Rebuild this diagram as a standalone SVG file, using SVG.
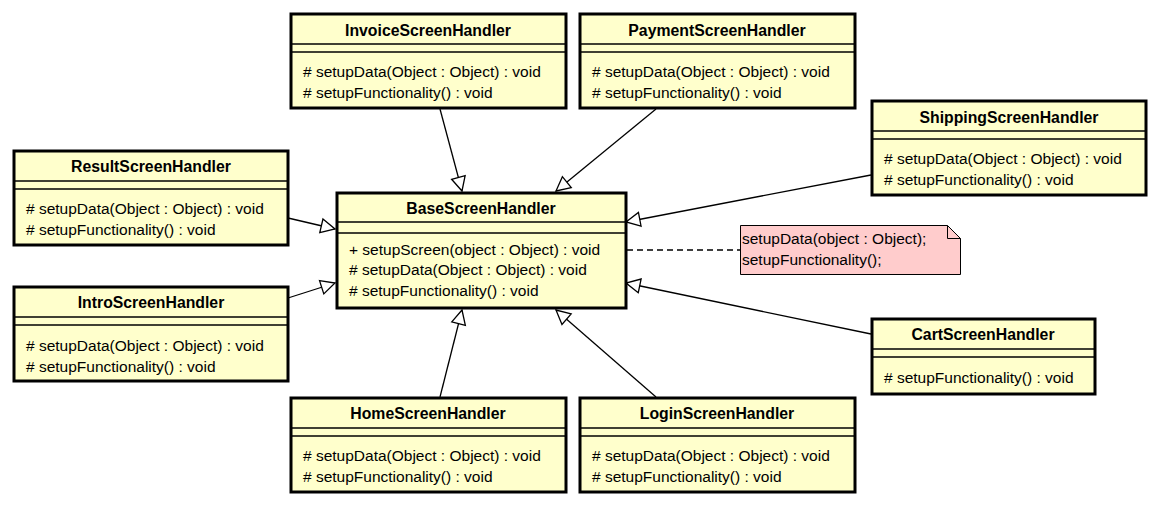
<svg xmlns="http://www.w3.org/2000/svg" width="1158" height="506" viewBox="0 0 1158 506">
<style>
.box{fill:#FFFFCC;stroke:#000;stroke-width:3}
.sep{stroke:#000;stroke-width:1.5}
.t{font-family:"Liberation Sans",Arial,sans-serif;font-size:15.8px;font-weight:bold;text-anchor:middle;fill:#000}
.m{font-family:"Liberation Sans",Arial,sans-serif;font-size:15.5px;fill:#000}
.c{stroke:#000;stroke-width:1.3;fill:none;marker-end:url(#gen)}
</style>
<defs>
<marker id="gen" markerUnits="userSpaceOnUse" markerWidth="18" markerHeight="18" refX="15" refY="8" orient="auto" overflow="visible">
<path d="M1,1 L15,8 L1,15 Z" fill="#fff" stroke="#000" stroke-width="1.3"/>
</marker>
</defs>
<rect width="1158" height="506" fill="#fff"/>
<g id="connectors">
<line class="c" x1="440" y1="109" x2="462" y2="191"/>
<line class="c" x1="656" y1="109" x2="556" y2="191"/>
<line class="c" x1="871" y1="175" x2="626" y2="222"/>
<line class="c" x1="288" y1="218" x2="335" y2="229"/>
<line class="c" x1="288" y1="298" x2="335" y2="283"/>
<line class="c" x1="440" y1="397" x2="462" y2="310"/>
<line class="c" x1="656" y1="397" x2="556" y2="310"/>
<line class="c" x1="871" y1="334" x2="626" y2="283"/>
<line x1="627" y1="250" x2="740" y2="250" stroke="#000" stroke-width="1.3" stroke-dasharray="6,4"/>
</g>
<g id="BaseScreenHandler">
<rect class="box" x="337" y="193" width="289" height="115"/>
<line class="sep" x1="337" y1="222" x2="626" y2="222"/>
<line class="sep" x1="337" y1="233" x2="626" y2="233"/>
<text class="t" x="481" y="214">BaseScreenHandler</text>
<text class="m" x="349" y="255">+ setupScreen(object : Object) : void</text>
<text class="m" x="349" y="275"># setupData(Object : Object) : void</text>
<text class="m" x="349" y="296"># setupFunctionality() : void</text>
</g>
<g id="InvoiceScreenHandler">
<rect class="box" x="291" y="14" width="275" height="94"/>
<line class="sep" x1="291" y1="44" x2="566" y2="44"/>
<line class="sep" x1="291" y1="52" x2="566" y2="52"/>
<text class="t" x="428" y="36">InvoiceScreenHandler</text>
<text class="m" x="303" y="77"># setupData(Object : Object) : void</text>
<text class="m" x="303" y="98"># setupFunctionality() : void</text>
</g>
<g id="PaymentScreenHandler">
<rect class="box" x="580" y="14" width="275" height="94"/>
<line class="sep" x1="580" y1="44" x2="855" y2="44"/>
<line class="sep" x1="580" y1="52" x2="855" y2="52"/>
<text class="t" x="717" y="36">PaymentScreenHandler</text>
<text class="m" x="592" y="77"># setupData(Object : Object) : void</text>
<text class="m" x="592" y="98"># setupFunctionality() : void</text>
</g>
<g id="ShippingScreenHandler">
<rect class="box" x="872" y="101" width="274" height="94"/>
<line class="sep" x1="872" y1="131" x2="1146" y2="131"/>
<line class="sep" x1="872" y1="139" x2="1146" y2="139"/>
<text class="t" x="1009" y="123">ShippingScreenHandler</text>
<text class="m" x="884" y="164"># setupData(Object : Object) : void</text>
<text class="m" x="884" y="185"># setupFunctionality() : void</text>
</g>
<g id="ResultScreenHandler">
<rect class="box" x="14" y="151" width="274" height="94"/>
<line class="sep" x1="14" y1="181" x2="288" y2="181"/>
<line class="sep" x1="14" y1="189" x2="288" y2="189"/>
<text class="t" x="151" y="172">ResultScreenHandler</text>
<text class="m" x="26" y="214"># setupData(Object : Object) : void</text>
<text class="m" x="26" y="235"># setupFunctionality() : void</text>
</g>
<g id="IntroScreenHandler">
<rect class="box" x="14" y="287" width="274" height="94"/>
<line class="sep" x1="14" y1="317" x2="288" y2="317"/>
<line class="sep" x1="14" y1="325" x2="288" y2="325"/>
<text class="t" x="151" y="308">IntroScreenHandler</text>
<text class="m" x="26" y="351"># setupData(Object : Object) : void</text>
<text class="m" x="26" y="372"># setupFunctionality() : void</text>
</g>
<g id="HomeScreenHandler">
<rect class="box" x="291" y="398" width="275" height="94"/>
<line class="sep" x1="291" y1="428" x2="566" y2="428"/>
<line class="sep" x1="291" y1="436" x2="566" y2="436"/>
<text class="t" x="428" y="419">HomeScreenHandler</text>
<text class="m" x="303" y="461"># setupData(Object : Object) : void</text>
<text class="m" x="303" y="482"># setupFunctionality() : void</text>
</g>
<g id="LoginScreenHandler">
<rect class="box" x="580" y="398" width="275" height="94"/>
<line class="sep" x1="580" y1="428" x2="855" y2="428"/>
<line class="sep" x1="580" y1="436" x2="855" y2="436"/>
<text class="t" x="717" y="419">LoginScreenHandler</text>
<text class="m" x="592" y="461"># setupData(Object : Object) : void</text>
<text class="m" x="592" y="482"># setupFunctionality() : void</text>
</g>
<g id="CartScreenHandler">
<rect class="box" x="872" y="319" width="223" height="75"/>
<line class="sep" x1="872" y1="349" x2="1095" y2="349"/>
<line class="sep" x1="872" y1="357" x2="1095" y2="357"/>
<text class="t" x="983" y="340">CartScreenHandler</text>
<text class="m" x="884" y="383"># setupFunctionality() : void</text>
</g>
<g id="note">
<path d="M740.5,225.5 H947.5 L960.5,238.5 V274.5 H740.5 Z" fill="#FFCCCC" stroke="#000" stroke-width="1"/>
<path d="M947.5,225.5 V238.5 H960.5" fill="none" stroke="#000" stroke-width="1"/>
<text class="m" x="742" y="244">setupData(object : Object);</text>
<text class="m" x="742" y="265">setupFunctionality();</text>
</g>
</svg>
